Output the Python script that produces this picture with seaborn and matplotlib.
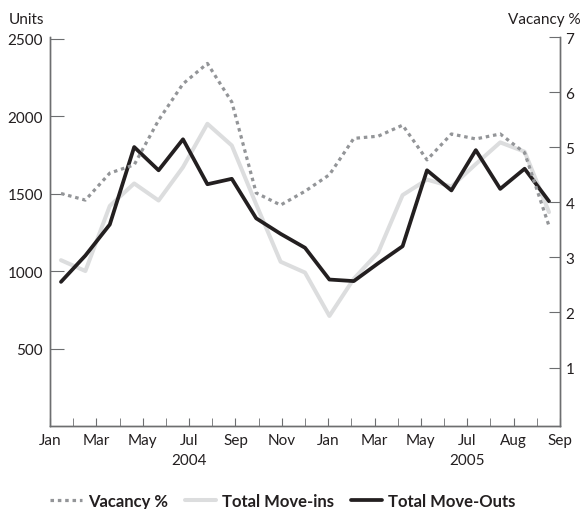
import matplotlib
matplotlib.use("Agg")
import matplotlib.pyplot as plt
import numpy as np
import pandas as pd
import seaborn as sns

# monthly values, Jan 2004 .. Sep 2005
move_outs = [930, 1100, 1300, 1800, 1650, 1850, 1560, 1595, 1340, 1240, 1150,
             945, 935, 1050, 1160, 1650, 1520, 1780, 1530, 1660, 1450]
move_ins = [1070, 1000, 1420, 1565, 1455, 1670, 1950, 1810, 1430, 1060, 990,
            710, 950, 1120, 1490, 1590, 1545, 1690, 1830, 1770, 1380]
vacancy = [4.16, 4.04, 4.53, 4.68, 5.49, 6.15, 6.52, 5.82, 4.17, 3.95, 4.2,
           4.5, 5.16, 5.2, 5.4, 4.77, 5.24, 5.15, 5.24, 4.9, 3.57]
month_labels = ["Jan", "Mar", "May", "Jul", "Sep", "Nov",
                "Jan", "Mar", "May", "Jul", "Aug", "Sep"]
year_labels = ["2004", "2005"]

df = pd.DataFrame({"idx": np.arange(len(move_outs)),
                   "outs": move_outs, "ins": move_ins, "vac": vacancy})

sns.set_style("white")
plt.rcParams["font.family"] = ["Lato", "DejaVu Sans"]
plt.rcParams["font.size"] = 11

black = "#231f20"
light = "#dcddde"
dotted = "#939598"
spine_c = "#6d6e70"

fig = plt.figure(figsize=(5.83, 5.10), dpi=100)
ax = fig.add_axes([50 / 583, 1 - 427 / 510, 510 / 583, 389 / 510])
ax2 = ax.twinx()

sns.lineplot(data=df, x="idx", y="ins", ax=ax, color=light, lw=2.9,
             label="Total Move-ins", legend=False)
sns.lineplot(data=df, x="idx", y="outs", ax=ax, color=black, lw=2.7,
             label="Total Move-Outs", legend=False)
sns.lineplot(data=df, x="idx", y="vac", ax=ax2, color=dotted, lw=2.3,
             label="Vacancy %", legend=False)
ax2.lines[0].set_dashes((1.1, 1.2))
ax2.lines[0].set_dash_capstyle("butt")

ax.set_xlim(-0.45, 20.45)
ax.set_ylim(0, 2510)
ax2.set_ylim(-0.06, 7.0)

ticks = np.linspace(-0.45, 20.45, 23)
ax.set_xticks(ticks[::2])
ax.set_xticklabels(month_labels)
ax.set_xticks(ticks[1::2], minor=True)
ax.set_yticks([500, 1000, 1500, 2000, 2500])
ax2.set_yticks([1, 2, 3, 4, 5, 6, 7])
ax.set_xlabel("")
ax.set_ylabel("")
ax2.set_ylabel("")

for a in (ax, ax2):
    a.spines["top"].set_visible(False)
    for s in ("left", "right", "bottom"):
        a.spines[s].set_color(spine_c)
        a.spines[s].set_linewidth(1.0)
ax.tick_params(axis="y", direction="in", length=10, color=spine_c,
               labelcolor=black, pad=5)
ax2.tick_params(axis="y", direction="in", length=8, color=spine_c,
                labelcolor=black, pad=4)
ax.tick_params(axis="x", which="both", direction="in", length=6,
               color=spine_c, labelcolor=black, pad=5)
ax.tick_params(axis="x", which="major", bottom=True)
ax.tick_params(axis="x", which="minor", bottom=True)

fig.text(27 / 583, 1 - 20 / 510, "Units", ha="center", va="center",
         color=black)
fig.text(581 / 583, 1 - 20 / 510, "Vacancy %", ha="right", va="center",
         color=black)
for lab, pos in zip(year_labels, [ticks[6], ticks[18]]):
    ax.annotate(lab, xy=(pos, 0), xycoords=("data", "axes fraction"),
                xytext=(0, -34), textcoords="offset pixels",
                ha="center", va="center", color=black)

handles = [ax2.lines[0], ax.lines[0], ax.lines[1]]
leg = fig.legend(handles=handles,
                 labels=["Vacancy %", "Total Move-ins", "Total Move-Outs"],
                 loc="center", bbox_to_anchor=(283 / 583, 1 - 502 / 510),
                 ncol=3, frameon=False, handlelength=1.9, handletextpad=0.35,
                 columnspacing=1.0, borderpad=0.0,
                 prop={"weight": "bold", "size": 12})
for t in leg.get_texts():
    t.set_color(black)

fig.savefig("out.png", dpi=100)
